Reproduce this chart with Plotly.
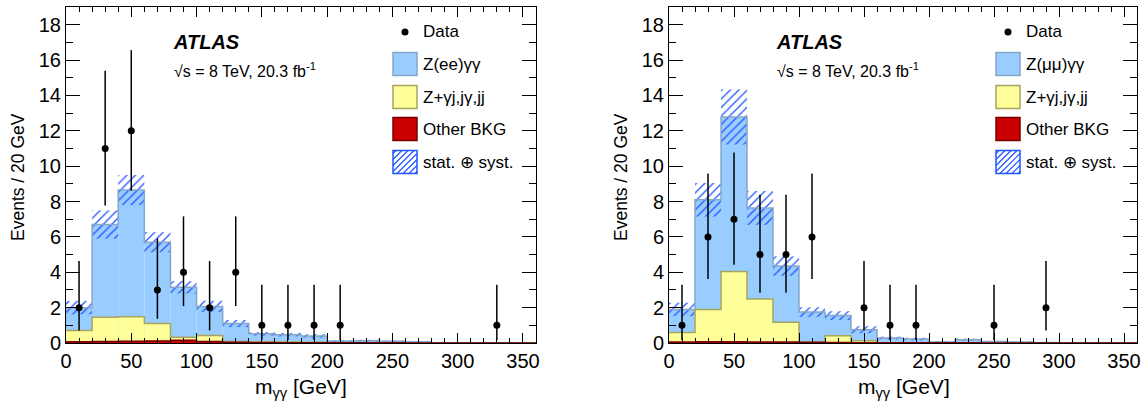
import numpy as np
import plotly.graph_objects as go

W, H = 1148, 410

# ---------------- data ----------------
bin_edges = list(range(0, 361, 20))
bin_centers = [e + 10 for e in bin_edges[:-1]]

# electron channel (left)
ee_zgg   = [1.30, 5.25, 7.17, 4.60, 2.83, 1.64, 1.01, 0.46, 0.42, 0.36, 0.10, 0.11, 0.09, 0.06, 0.02, 0.01, 0.02, 0.01]
ee_zjets = [0.64, 1.37, 1.38, 0.98, 0.17, 0.35, 0.05, 0.03, 0.03, 0.02, 0.01, 0.01, 0.00, 0.00, 0.00, 0.00, 0.00, 0.00]
ee_other = [0.06, 0.08, 0.10, 0.12, 0.15, 0.08, 0.04, 0.03, 0.02, 0.02, 0.01, 0.01, 0.01, 0.00, 0.00, 0.00, 0.00, 0.00]
ee_unc   = [0.38, 0.80, 0.85, 0.57, 0.35, 0.32, 0.20, 0.10, 0.10, 0.10, 0.05, 0.06, 0.05, 0.04, 0.02, 0.01, 0.02, 0.01]
ee_data_x  = [10, 30, 50, 70, 90, 110, 130, 150, 170, 190, 210, 330]
ee_data_y  = [2, 11, 12, 3, 4, 2, 4, 1, 1, 1, 1, 1]
ee_data_lo = [0.71, 7.78, 8.61, 1.37, 2.09, 0.71, 2.09, 0.17, 0.17, 0.17, 0.17, 0.17]
ee_data_hi = [4.64, 15.40, 16.56, 5.92, 7.16, 4.64, 7.16, 3.30, 3.30, 3.30, 3.30, 3.30]

# muon channel (right)
mm_zgg   = [1.30, 6.21, 8.73, 5.15, 3.18, 1.71, 1.14, 0.62, 0.26, 0.21, 0.04, 0.18, 0.08, 0.05, 0.03, 0.01, 0.01, 0.01]
mm_zjets = [0.55, 1.83, 3.99, 2.44, 1.12, 0.00, 0.38, 0.11, 0.00, 0.00, 0.00, 0.00, 0.00, 0.00, 0.00, 0.00, 0.00, 0.00]
mm_other = [0.05, 0.06, 0.06, 0.05, 0.05, 0.04, 0.03, 0.02, 0.02, 0.01, 0.01, 0.01, 0.00, 0.00, 0.00, 0.00, 0.00, 0.00]
mm_unc   = [0.38, 0.95, 1.55, 0.96, 0.55, 0.27, 0.25, 0.20, 0.08, 0.08, 0.03, 0.06, 0.04, 0.03, 0.02, 0.01, 0.01, 0.01]
mm_data_x  = [10, 30, 50, 70, 90, 110, 150, 170, 190, 250, 290]
mm_data_y  = [1, 6, 7, 5, 5, 6, 2, 1, 1, 1, 2]
mm_data_lo = [0.17, 3.62, 4.42, 2.84, 2.84, 3.62, 0.71, 0.17, 0.17, 0.17, 0.71]
mm_data_hi = [3.30, 9.58, 10.77, 8.38, 8.38, 9.58, 4.64, 3.30, 3.30, 3.30, 4.64]

legend_labels_ee = ["Data", "Z(ee)γγ", "Z+γj,jγ,jj", "Other BKG", "stat. ⊕ syst."]
legend_labels_mm = ["Data", "Z(μμ)γγ", "Z+γj,jγ,jj", "Other BKG", "stat. ⊕ syst."]

# ---------------- style ----------------
FONT = "Liberation Sans, Arial, Helvetica, sans-serif"
C_BLUE = "#99ccff"
C_BLUE_L = "#86a6c8"
C_YEL = "#ffff99"
C_YEL_L = "#a5a560"
C_RED = "#cc0000"
C_RED_L = "#7a0000"
C_HATCH = "#2255ff"

fig = go.Figure()

panels = [
    dict(xa="x", ya="y", zgg=ee_zgg, zj=ee_zjets, oth=ee_other, unc=ee_unc,
         dx=ee_data_x, dy=ee_data_y, dlo=ee_data_lo, dhi=ee_data_hi,
         labels=legend_labels_ee, off=0),
    dict(xa="x2", ya="y2", zgg=mm_zgg, zj=mm_zjets, oth=mm_other, unc=mm_unc,
         dx=mm_data_x, dy=mm_data_y, dlo=mm_data_lo, dhi=mm_data_hi,
         labels=legend_labels_mm, off=603),
]

shapes = []
annotations = []

def px(x):
    return x / W

def py(y):
    return 1 - y / H

for p in panels:
    zgg = np.array(p["zgg"]); zj = np.array(p["zj"]); oth = np.array(p["oth"]); unc = np.array(p["unc"])
    tot = zgg + zj + oth
    bkg = zj + oth
    for vals, col in [(tot, C_BLUE), (bkg, C_YEL), (oth, C_RED)]:
        fig.add_trace(go.Bar(x=bin_centers, y=vals, width=20, xaxis=p["xa"], yaxis=p["ya"],
                             marker=dict(color=col, line=dict(width=0)), showlegend=False,
                             hoverinfo="skip"))
    fig.add_trace(go.Bar(x=bin_centers, y=2 * unc, base=tot - unc, width=20,
                         xaxis=p["xa"], yaxis=p["ya"], showlegend=False, hoverinfo="skip",
                         marker=dict(color=C_HATCH, line=dict(width=0),
                                     pattern=dict(shape="/", size=6, solidity=0.22, fillmode="replace"))))
    for vals, col in [(tot, C_BLUE_L), (bkg, C_YEL_L), (oth, C_RED_L)]:
        fig.add_trace(go.Scatter(x=bin_edges, y=list(vals) + [vals[-1]], mode="lines",
                                 line=dict(shape="hv", color=col, width=1.5),
                                 xaxis=p["xa"], yaxis=p["ya"], showlegend=False, hoverinfo="skip"))
    dy = np.array(p["dy"], dtype=float)
    fig.add_trace(go.Scatter(x=p["dx"], y=dy, mode="markers", xaxis=p["xa"], yaxis=p["ya"],
                             marker=dict(color="black", size=7),
                             error_y=dict(type="data", symmetric=False,
                                          array=list(np.array(p["dhi"]) - dy),
                                          arrayminus=list(dy - np.array(p["dlo"])),
                                          width=0, thickness=1.5, color="black"),
                             showlegend=False))

    o = p["off"]
    # ATLAS label
    annotations.append(dict(x=px(171 + o), y=py(42), xref="paper", yref="paper", xanchor="left", yanchor="middle",
                            text="<b><i>ATLAS</i></b>", showarrow=False, font=dict(family=FONT, size=20, color="black")))
    annotations.append(dict(x=px(172 + o), y=py(70), xref="paper", yref="paper", xanchor="left", yanchor="middle",
                            text="√s = 8 TeV, 20.3 fb<sup>-1</sup>", showarrow=False,
                            font=dict(family=FONT, size=16, color="black")))
    # legend
    lx0, lx1 = 393 + o, 417 + o
    rows = [32, 64, 97, 129, 162]
    shapes.append(dict(type="circle", xref="paper", yref="paper", x0=px(405 + o - 3.5), x1=px(405 + o + 3.5),
                       y0=py(rows[0] + 3.5), y1=py(rows[0] - 3.5), fillcolor="black", line=dict(width=0)))
    for (yc, fill, lc) in [(rows[1], C_BLUE, C_BLUE_L), (rows[2], C_YEL, C_YEL_L), (rows[3], C_RED, C_RED_L)]:
        shapes.append(dict(type="rect", xref="paper", yref="paper", x0=px(lx0), x1=px(lx1),
                           y0=py(yc + 11.5), y1=py(yc - 11.5), fillcolor=fill, line=dict(color=lc, width=1.5)))
    # hatched box
    hy0, hy1 = rows[4] - 11.5, rows[4] + 11.5
    c = lx0 + hy0 + 3
    while c < lx1 + hy1:
        xa_ = max(lx0, c - hy1); xb_ = min(lx1, c - hy0)
        if xb_ > xa_:
            shapes.append(dict(type="line", xref="paper", yref="paper", x0=px(xa_), y0=py(c - xa_),
                               x1=px(xb_), y1=py(c - xb_), line=dict(color=C_HATCH, width=1.2)))
        c += 6
    shapes.append(dict(type="rect", xref="paper", yref="paper", x0=px(lx0), x1=px(lx1),
                       y0=py(hy1), y1=py(hy0), fillcolor="rgba(0,0,0,0)", line=dict(color=C_HATCH, width=1.5)))
    for lab, yc in zip(p["labels"], rows):
        annotations.append(dict(x=px(421 + o), y=py(yc), xref="paper", yref="paper", xanchor="left",
                                yanchor="middle", text=lab, showarrow=False,
                                font=dict(family=FONT, size=17, color="black")))
    # axis titles
    annotations.append(dict(x=px(301 + o), y=py(388), xref="paper", yref="paper", xanchor="center",
                            yanchor="middle", text="m<sub>γγ</sub> [GeV]", showarrow=False,
                            font=dict(family=FONT, size=21, color="black")))
    annotations.append(dict(x=px(18 + o), y=py(177), xref="paper", yref="paper", xanchor="center",
                            yanchor="middle", text="Events / 20 GeV", showarrow=False, textangle=-90,
                            font=dict(family=FONT, size=17.5, color="black")))

xcommon = dict(range=[0, 360], tick0=0, dtick=50, ticks="inside", ticklen=10, tickwidth=1, tickcolor="black",
               minor=dict(dtick=10, ticks="inside", ticklen=5, tickcolor="black", tickwidth=1),
               showline=True, linecolor="black", linewidth=1, mirror="allticks", showgrid=False, zeroline=False,
               automargin=False, tickfont=dict(family=FONT, size=20, color="black"))
ycommon = dict(range=[0, 19], tick0=0, dtick=2, ticks="inside", ticklen=14, tickwidth=1, tickcolor="black",
               minor=dict(dtick=1, ticks="inside", ticklen=7, tickcolor="black", tickwidth=1),
               showline=True, linecolor="black", linewidth=1, mirror="allticks", showgrid=False, zeroline=False,
               automargin=False, tickfont=dict(family=FONT, size=20, color="black"))

ydom = [1 - 343 / H, 1 - 7 / H]
fig.update_layout(
    width=W, height=H, margin=dict(l=0, r=0, t=0, b=0, pad=0),
    paper_bgcolor="white", plot_bgcolor="white", barmode="overlay", showlegend=False,
    xaxis=dict(domain=[66 / W, 536 / W], anchor="y", **xcommon),
    yaxis=dict(domain=ydom, anchor="x", **ycommon),
    xaxis2=dict(domain=[669 / W, 1137 / W], anchor="y2", **xcommon),
    yaxis2=dict(domain=ydom, anchor="x2", **ycommon),
    shapes=shapes, annotations=annotations,
)

fig.write_html("out.html", config={"displayModeBar": False},
               post_script="document.body.style.margin='0';document.body.style.padding='0';"
                           "document.documentElement.style.overflow='hidden';")
